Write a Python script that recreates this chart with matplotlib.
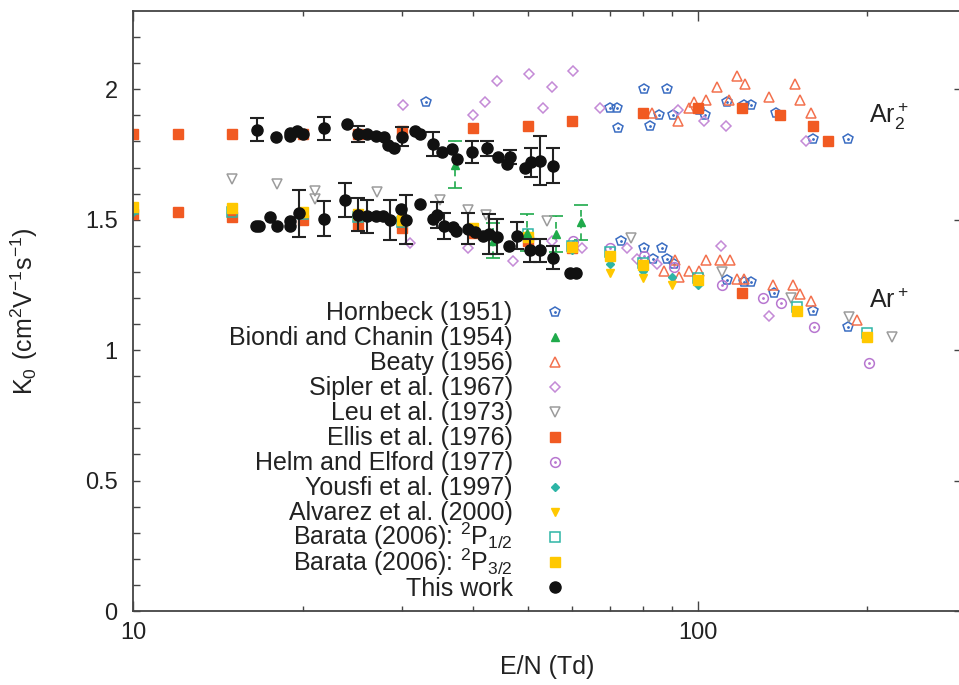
import numpy as np
import matplotlib
matplotlib.use("Agg")
import matplotlib.pyplot as plt
from matplotlib.lines import Line2D
from matplotlib.legend_handler import HandlerTuple, HandlerLine2D

plt.rcParams['font.family'] = ['Liberation Sans', 'DejaVu Sans']
plt.rcParams['mathtext.default'] = 'regular'

# ---- data (E/N in Td, K0 in cm2/V/s) ----
hornbeck_x = [33.1, 70.1, 72.1, 72.2, 80.5, 82.3, 85.4, 88.4, 90.6, 100.7, 103.3, 112.6, 120.8, 124.6,
              137.9, 160.1, 185.0,
              73.2, 80.3, 83.5, 86.4, 88.4, 90.8, 112.6, 120.8, 124.6, 136.6, 160.1, 185.0]
hornbeck_y = [1.95, 1.93, 1.93, 1.85, 2.00, 1.86, 1.90, 2.00, 1.90, 1.92, 1.90, 1.95, 1.94, 1.94,
              1.91, 1.81, 1.81,
              1.42, 1.39, 1.35, 1.39, 1.35, 1.33, 1.27, 1.26, 1.26, 1.22, 1.15, 1.09]

biondi_x = [37.2, 43.5, 49.9, 56.2, 62.3]
biondi_y = [1.71, 1.42, 1.45, 1.445, 1.49]
biondi_err = [0.09, 0.068, 0.07, 0.07, 0.068]

beaty_x = [83.1, 92.3, 96.5, 98.5, 103.6, 108.4, 113.6, 117.6, 121.3, 133.8, 148.8, 151.9, 158.6,
           87.4, 91.4, 92.7, 96.5, 100.5, 103.6, 109.5, 114.0, 117.6, 120.8, 136.0, 147.6, 151.9,
           158.6, 191.4]
beaty_y = [1.91, 1.88, 1.93, 1.95, 1.96, 2.01, 1.96, 2.05, 2.02, 1.97, 2.02, 1.96, 1.91,
           1.305, 1.347, 1.282, 1.305, 1.302, 1.346, 1.346, 1.346, 1.273, 1.273, 1.248, 1.248, 1.216,
           1.188, 1.116]

sipler_x = [30.1, 40.1, 42.1, 44.2, 50.2, 53.2, 55.3, 60.2, 67.1, 92.3, 102.6, 112.4, 155.8,
            31.0, 39.2, 47.1, 55.3, 62.4, 75.1, 78.2, 84.6, 109.9, 133.8]
sipler_y = [1.94, 1.90, 1.95, 2.03, 2.06, 1.93, 2.01, 2.07, 1.93, 1.92, 1.88, 1.86, 1.80,
            1.41, 1.39, 1.34, 1.42, 1.39, 1.39, 1.35, 1.33, 1.40, 1.13]

leu_x = [15.0, 18.0, 21.0, 21.0, 27.0, 35.0, 39.2, 42.2, 54.2, 76.3, 110.6, 146.6, 185.5, 221.4]
leu_y = [1.656, 1.637, 1.609, 1.579, 1.607, 1.575, 1.537, 1.518, 1.496, 1.429, 1.301, 1.201, 1.126, 1.050]

ellis_x = [10, 12, 15, 20, 25, 30, 40, 50, 60, 80, 100, 120, 140, 160, 170,
           10, 12, 15, 20, 25, 30, 40, 50, 60, 120]
ellis_y = [1.83, 1.83, 1.83, 1.83, 1.83, 1.84, 1.85, 1.86, 1.88, 1.91, 1.93, 1.93, 1.90, 1.86, 1.80,
           1.52, 1.53, 1.51, 1.50, 1.48, 1.47, 1.45, 1.42, 1.39, 1.22]

helm_x = [60.2, 70.1, 80.3, 90.8, 110.6, 130.5, 140.7, 160.8, 201.2]
helm_y = [1.42, 1.39, 1.36, 1.32, 1.25, 1.20, 1.18, 1.09, 0.95]

yousfi_x = [10, 60, 70, 80, 90, 100]
yousfi_y = [1.53, 1.385, 1.33, 1.305, 1.28, 1.25]

alvarez_x = [70, 80, 90]
alvarez_y = [1.295, 1.275, 1.25]

barata_x = [10, 15, 20, 25, 30, 40, 50, 60, 70, 80, 100, 150, 200]
barata12_y = [1.54, 1.53, 1.52, 1.51, 1.49, 1.465, 1.445, 1.40, 1.375, 1.335, 1.275, 1.165, 1.065]
barata32_y = [1.55, 1.545, 1.53, 1.52, 1.50, 1.47, 1.435, 1.395, 1.36, 1.325, 1.27, 1.15, 1.05]

# this work: Ar2+ branch then Ar+ branch, 0 = no error bar drawn
work_x = [16.6, 17.9, 19.0, 19.0, 19.5, 20.0, 21.8, 23.9, 25.0, 26.0, 26.9, 27.8, 28.3, 29.0, 30.0,
          31.6, 32.3, 34.0, 35.3, 36.7, 37.5, 39.9, 42.4, 44.4, 46.0, 46.5, 49.4, 50.7, 52.5, 55.5,
          16.5, 16.7, 17.5, 18.0, 19.0, 19.0, 19.7, 21.8, 23.7, 25.0, 26.0, 26.9, 27.7, 28.5, 29.8,
          30.5, 32.2, 34.0, 34.6, 35.6, 36.9, 37.4, 39.2, 40.4, 41.7, 42.7, 44.2, 46.3, 47.8, 50.6,
          52.5, 55.5, 59.5, 61.0]
work_y = [1.845, 1.818, 1.834, 1.822, 1.841, 1.830, 1.851, 1.866, 1.828, 1.828, 1.822, 1.818, 1.787,
          1.775, 1.818, 1.841, 1.830, 1.790, 1.760, 1.771, 1.733, 1.760, 1.773, 1.739, 1.713, 1.741,
          1.697, 1.720, 1.726, 1.707,
          1.475, 1.475, 1.509, 1.476, 1.496, 1.477, 1.524, 1.503, 1.576, 1.519, 1.513, 1.514, 1.514,
          1.499, 1.541, 1.499, 1.560, 1.503, 1.518, 1.477, 1.473, 1.458, 1.465, 1.452, 1.439, 1.445,
          1.435, 1.401, 1.439, 1.382, 1.382, 1.354, 1.295, 1.295]
work_err = [0.045, 0, 0, 0, 0, 0, 0.044, 0, 0.03, 0, 0, 0, 0, 0, 0.037, 0, 0, 0.045, 0, 0, 0,
            0.042, 0.027, 0, 0, 0.028, 0, 0.055, 0.094, 0.068,
            0, 0, 0, 0, 0, 0, 0.09, 0.067, 0.064, 0.063, 0.064, 0, 0, 0.077, 0, 0.094, 0, 0, 0.05,
            0.05, 0, 0, 0.059, 0, 0, 0.075, 0.068, 0, 0.053, 0.045, 0.045, 0.044, 0, 0]

# colours
c_blue = '#3b6dc2'
c_green = '#1faa4b'
c_beaty = '#f3714e'
c_sipler = '#c48ad6'
c_leu = '#9c9c9c'
c_ellis = '#f15a22'
c_helm = '#b877d0'
c_teal = '#2db5a6'
c_yellow = '#ffc800'
c_black = '#111111'
c_text = '#222222'


class LowLineHandler(HandlerLine2D):
    # tall handle boxes keep every legend row the same height; pull the marker back down
    def create_artists(self, legend, orig_handle, xdescent, ydescent, width, height, fontsize, trans):
        arts = super().create_artists(legend, orig_handle, xdescent, ydescent, width, height,
                                      fontsize, trans)
        for a in arts:
            a.set_ydata(np.asarray(a.get_ydata(), dtype=float) - 0.2 * fontsize)
        return arts


fig = plt.figure(figsize=(9.59, 6.85), dpi=100)
ax = fig.add_axes([133 / 959, 74 / 685, 828 / 959, 600 / 685])
ax.set_xscale('log')

h_horn = ax.plot(hornbeck_x, hornbeck_y, 'p', ms=7, mfc='none', mec=c_blue, mew=1.1)[0]
h_horn_d = ax.plot(hornbeck_x, hornbeck_y, '.', ms=2, color=c_blue)[0]

eb = ax.errorbar(biondi_x, biondi_y, yerr=biondi_err, fmt='^', ms=6, color=c_green,
                 ecolor=c_green, elinewidth=1.2, capsize=5, capthick=1.2)
eb[2][0].set_linestyle((0, (4, 3)))
h_biondi = ax.plot([], [], '^', ms=6, color=c_green)[0]

h_beaty = ax.plot(beaty_x, beaty_y, '^', ms=7, mfc='none', mec=c_beaty, mew=1.1)[0]
h_sipler = ax.plot(sipler_x, sipler_y, 'D', ms=5, mfc='none', mec=c_sipler, mew=1.1)[0]
h_leu = ax.plot(leu_x, leu_y, 'v', ms=7, mfc='none', mec=c_leu, mew=1.1)[0]
h_ellis = ax.plot(ellis_x, ellis_y, 's', ms=6.5, color=c_ellis)[0]
h_helm = ax.plot(helm_x, helm_y, 'o', ms=7, mfc='none', mec=c_helm, mew=1.1)[0]
h_helm_d = ax.plot(helm_x, helm_y, '.', ms=2, color=c_helm)[0]
h_yousfi = ax.plot(yousfi_x, yousfi_y, 'D', ms=4.5, color=c_teal)[0]
h_alv = ax.plot(alvarez_x, alvarez_y, 'v', ms=6, color=c_yellow)[0]
h_b12 = ax.plot(barata_x, barata12_y, 's', ms=7, mfc='none', mec=c_teal, mew=1.1)[0]
h_b32 = ax.plot(barata_x, barata32_y, 's', ms=7, color=c_yellow)[0]

wx = np.array(work_x)
wy = np.array(work_y)
we = np.array(work_err)
m = we > 0
ax.errorbar(wx[m], wy[m], yerr=we[m], fmt='none', ecolor=c_text, elinewidth=1.5,
            capsize=5, capthick=1.5, zorder=4)
h_work = ax.plot(wx, wy, 'o', ms=8, color=c_black, zorder=5)[0]

ax.text(201, 1.87, r'$Ar_2^+$', fontsize=18, va='baseline', ha='left', color=c_text)
ax.text(201, 1.16, r'$Ar^+$', fontsize=18, va='baseline', ha='left', color=c_text)

# axes
ax.set_xlim(10, 10 ** (1 + 828 / 564.5))
ax.set_ylim(0, 2.3)
ax.set_xticks([10, 100])
ax.set_xticklabels(['10', '100'])
ax.set_xticks([20, 30, 40, 50, 60, 70, 80, 90, 200], minor=True)
ax.set_xticklabels([], minor=True)
ax.set_yticks([0, 0.5, 1, 1.5, 2])
ax.set_yticklabels(['0', '0.5', '1', '1.5', '2'])
ax.set_yticks(np.arange(0.1, 2.3, 0.1), minor=True)
ax.tick_params(which='both', direction='in', top=True, right=True, colors='#444444',
               labelcolor=c_text, labelsize=17, width=1.0)
ax.tick_params(axis='x', which='major', length=7, pad=8)
ax.tick_params(axis='x', which='minor', length=3.5)
ax.tick_params(axis='y', which='major', length=5, pad=11)
ax.tick_params(axis='y', which='minor', length=5, right=False)
for s in ['left', 'bottom', 'top']:
    ax.spines[s].set_color('#444444')
    ax.spines[s].set_linewidth(1.3)
ax.spines['right'].set_visible(False)

ax.set_xlabel('E/N (Td)', fontsize=18, color=c_text, labelpad=8)
ax.set_ylabel(r'$K_0\ (cm^2V^{-1}s^{-1})$', fontsize=18, color=c_text)
ax.yaxis.set_label_coords(-0.112, 0.5)

handles = [(h_horn, h_horn_d), h_biondi, h_beaty, h_sipler, h_leu, h_ellis, (h_helm, h_helm_d),
           h_yousfi, h_alv, h_b12, h_b32, h_work]
labels = ['Hornbeck (1951)', 'Biondi and Chanin (1954)', 'Beaty (1956)', 'Sipler et al. (1967)',
          'Leu et al. (1973)', 'Ellis et al. (1976)', 'Helm and Elford (1977)',
          'Yousfi et al. (1997)', 'Alvarez et al. (2000)', r'Barata (2006): $^2P_{1/2}$',
          r'Barata (2006): $^2P_{3/2}$', 'This work']
leg = ax.legend(handles, labels, loc='upper right', bbox_to_anchor=(0.525, 0.53),
                frameon=False, markerfirst=False, fontsize=18, handlelength=1.0,
                handleheight=2.0, handletextpad=1.2, labelspacing=-0.544, borderpad=0,
                borderaxespad=0,
                handler_map={tuple: HandlerTuple(ndivide=1, pad=0), Line2D: LowLineHandler()})
for t in leg.get_texts():
    t.set_color(c_text)

fig.savefig('out.png', dpi=100)
